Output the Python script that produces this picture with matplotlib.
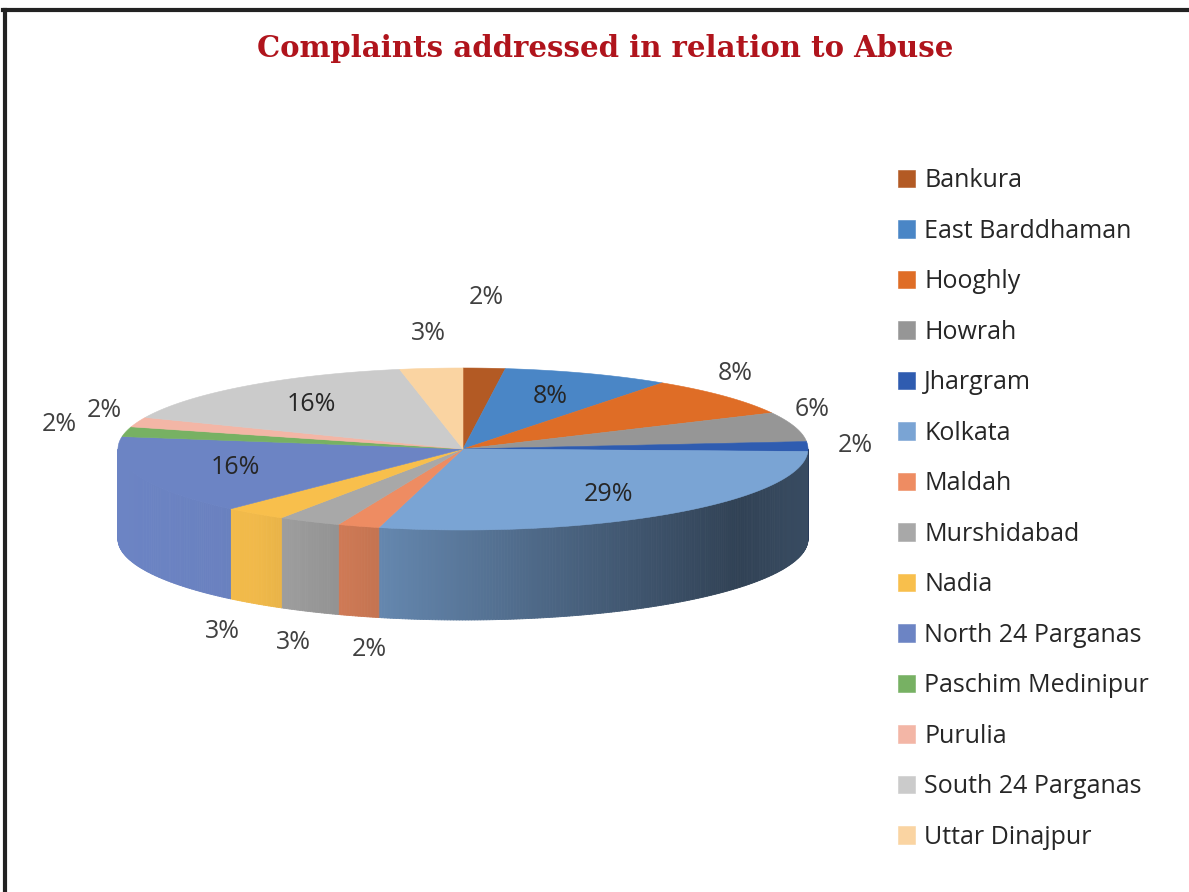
import numpy as np
import matplotlib
matplotlib.use("Agg")
import matplotlib.pyplot as plt
from matplotlib.collections import PolyCollection
from matplotlib.colors import to_rgb
from matplotlib.lines import Line2D

# data
districts = ["Bankura", "East Barddhaman", "Hooghly", "Howrah", "Jhargram",
             "Kolkata", "Maldah", "Murshidabad", "Nadia", "North 24 Parganas",
             "Paschim Medinipur", "Purulia", "South 24 Parganas", "Uttar Dinajpur"]
percent = [2, 8, 8, 6, 2, 29, 2, 3, 3, 16, 2, 2, 16, 3]
colors = ["#b35a24", "#4a86c6", "#df6d26", "#969696", "#2f5cb0", "#7aa4d4",
          "#ee8c62", "#a8a8a8", "#f8bf4c", "#6c84c4", "#77b163", "#f3b6a6",
          "#cbcbcb", "#fad4a2"]
inside = {"East Barddhaman", "Kolkata", "North 24 Parganas", "South 24 Parganas"}
nudge = {"Bankura": (0, -36), "Paschim Medinipur": (-32, 0),
         "Maldah": (22, 0), "Nadia": (-12, 0), "Jhargram": (12, 0),
         "Hooghly": (-16, 0), "Howrah": (-16, -8)}

# pie geometry in pixel space
cx, cy = 463, 449
R, r = 345, 81
depth = 90

fig = plt.figure(figsize=(11.89, 8.92), dpi=100)
ax = fig.add_axes([0, 0, 1, 1])
ax.set_xlim(0, 1189)
ax.set_ylim(892, 0)
ax.axis("off")


def rim(t):
    t = np.radians(t)
    return cx + R * np.cos(t), cy - r * np.sin(t)


def shade(x):
    u = (x - cx) / R
    return np.interp(u, [-1, -0.6, 0.8, 1.0], [1.0, 0.97, 0.4, 0.46])


total = float(sum(percent))
bounds = 90 - 360 * np.concatenate([[0], np.cumsum(percent)]) / total

# side walls (front half only)
quads, qcols = [], []
for i, col in enumerate(colors):
    hi, lo = bounds[i], bounds[i + 1]
    lo2, hi2 = max(lo, -180), min(hi, 0)
    if hi2 <= lo2:
        continue
    n = max(2, int((hi2 - lo2) * 2))
    ts = np.linspace(lo2, hi2, n + 1)
    base = np.array(to_rgb(col))
    for a, b in zip(ts[:-1], ts[1:]):
        x0, y0 = rim(a)
        x1, y1 = rim(b)
        quads.append([(x0, y0), (x1, y1), (x1, y1 + depth), (x0, y0 + depth)])
        qcols.append(np.clip(base * shade((x0 + x1) / 2), 0, 1))
ax.add_collection(PolyCollection(quads, facecolors=qcols, edgecolors=qcols,
                                 linewidths=0.6))

# top faces
for i, (name, col) in enumerate(zip(districts, colors)):
    ts = np.linspace(bounds[i], bounds[i + 1], 60)
    xs, ys = rim(ts)
    pts = np.column_stack([np.r_[cx, xs], np.r_[cy, ys]])
    ax.fill(pts[:, 0], pts[:, 1], facecolor=col, edgecolor=col,
            linewidth=0.4, label=name)

# percentage labels
for i, (name, p) in enumerate(zip(districts, percent)):
    mid = np.radians((bounds[i] + bounds[i + 1]) / 2)
    c, s = np.cos(mid), np.sin(mid)
    if name in inside:
        x = cx + 0.7 * R * c
        y = cy - 0.7 * r * s
        tc = "#262626"
    else:
        x = cx + (R + 35) * c
        y = cy - (r + 35) * s
        if s < 0:
            y += depth
        tc = "#404040"
    dx, dy = nudge.get(name, (0, 0))
    ax.text(x + dx, y + dy, f"{p}%", ha="center", va="center",
            fontsize=18, color=tc, family="Open Sans")

ax.legend(loc="upper left", bbox_to_anchor=(0.7446, 0.8254),
          bbox_transform=fig.transFigure, frameon=False,
          prop={"family": "Open Sans", "size": 18}, labelcolor="#262626",
          handlelength=0.7, handleheight=0.7, handletextpad=0.35,
          labelspacing=1.02, borderpad=0)

fig.text(0.509, 0.946, "Complaints addressed in relation to Abuse",
         ha="center", va="center", fontsize=21, fontweight="bold",
         family="DejaVu Serif", color="#b0141c")

# frame lines (top and left)
ax.add_line(Line2D([3, 1189], [10, 10], color="#222222", lw=3))
ax.add_line(Line2D([5, 5], [10, 892], color="#222222", lw=3))

fig.savefig("out.png", dpi=100, facecolor="white")
